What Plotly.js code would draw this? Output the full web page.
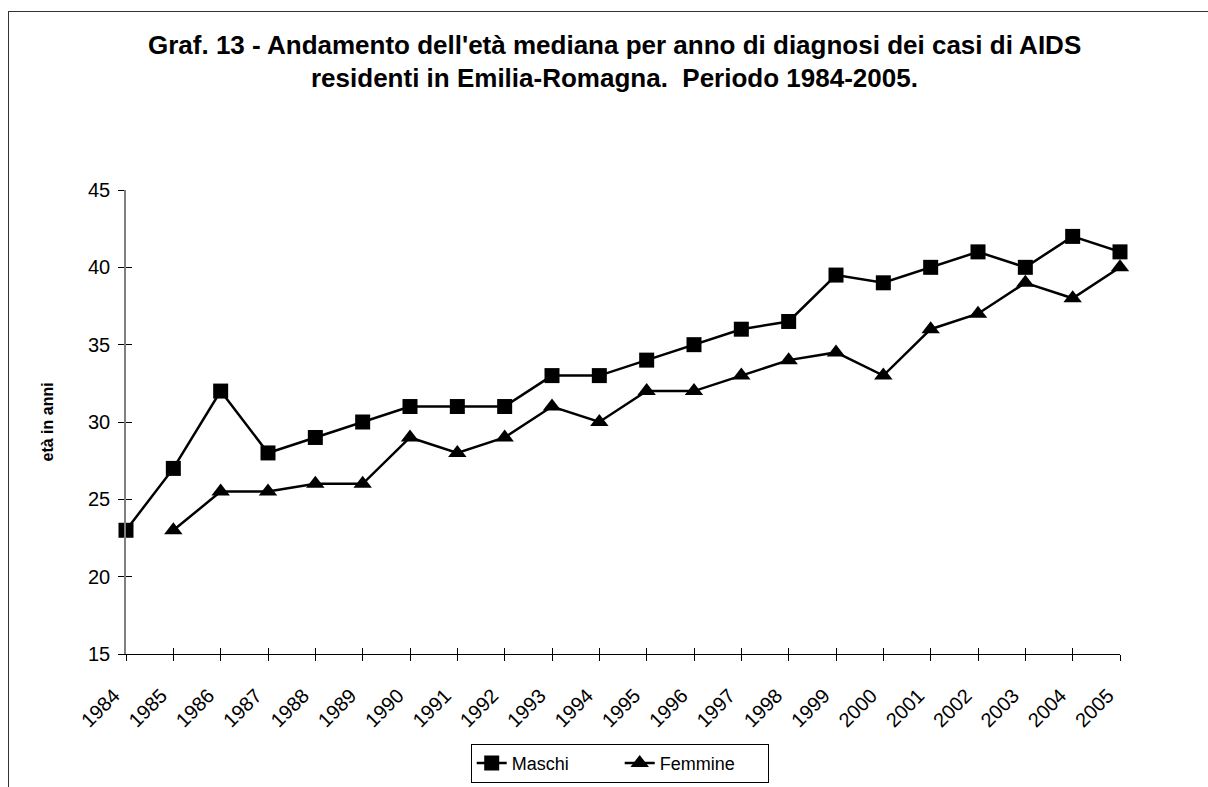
<!DOCTYPE html>
<html>
<head>
<meta charset="utf-8">
<script src="https://cdn.plot.ly/plotly-3.0.1.min.js"></script>
<style>
    body { margin: 0; overflow: hidden; background: #fff; }
    #frame {
        position: absolute; left: 8px; top: 11px;
        width: 1400px; height: 1000px;
        border: 1.5px solid #333;
    }
    #chart { position: absolute; left: 0; top: 0; width: 1208px; height: 787px; }
</style>
</head>
<body>
<div id="frame"></div>
<div id="chart"></div>
<script>
const anni = ["1984", "1985", "1986", "1987", "1988", "1989", "1990", "1991", "1992", "1993", "1994",
              "1995", "1996", "1997", "1998", "1999", "2000", "2001", "2002", "2003", "2004", "2005"]

const maschi = [23, 27, 32, 28, 29, 30, 31, 31, 31, 33, 33, 34, 35, 36, 36.5, 39.5, 39, 40, 41, 40, 42, 41]
const femmine = [null, 23, 25.5, 25.5, 26, 26, 29, 28, 29, 31, 30, 32, 32, 33, 34, 34.5, 33, 36, 37, 39, 38, 40]

const yTicks = [15, 20, 25, 30, 35, 40, 45]

const titoloRiga1 = "Graf. 13 - Andamento dell'età mediana per anno di diagnosi dei casi di AIDS"
const titoloRiga2 = "residenti in Emilia-Romagna.  Periodo 1984-2005."
const titoloY = "età in anni"

const font = "Liberation Sans, Arial, sans-serif"

let data = [
    {
        x: anni,
        y: maschi,
        name: "Maschi",
        mode: "lines+markers",
        type: "scatter",
        cliponaxis: false,
        line: {color: "#000", width: 2.5},
        marker: {symbol: "square", size: 15, color: "#000"}
    },
    {
        x: anni,
        y: femmine,
        name: "Femmine",
        mode: "lines+markers",
        type: "scatter",
        cliponaxis: false,
        line: {color: "#000", width: 2.5},
        marker: {symbol: "triangle-up", size: 16, color: "#000"}
    }
]

let layout = {
    width: 1208,
    height: 787,
    margin: {l: 126, r: 88, t: 190, b: 133},
    paper_bgcolor: "rgba(0,0,0,0)",
    plot_bgcolor: "rgba(0,0,0,0)",
    font: {family: font, size: 18, color: "#000"},
    showlegend: true,
    legend: {
        orientation: "h",
        xref: "container", yref: "container",
        x: 0.513, xanchor: "center",
        y: 0.055, yanchor: "top",
        bordercolor: "#000", borderwidth: 1,
        bgcolor: "#fff",
        font: {size: 18},
        entrywidth: 103,
        itemwidth: 30
    },
    xaxis: {
        type: "category",
        range: [0, anni.length - 1],
        automargin: false,
        showgrid: false,
        zeroline: false,
        showline: true,
        linecolor: "#000",
        linewidth: 1,
        ticks: "outside",
        ticklen: 6,
        tickcolor: "#000",
        tickangle: -45,
        ticklabelstandoff: 15,
        ticklabelshift: -12,
        tickfont: {size: 20}
    },
    xaxis2: {
        type: "category",
        overlaying: "x",
        matches: "x",
        anchor: "y",
        side: "bottom",
        showgrid: false,
        zeroline: false,
        ticks: "inside",
        ticklen: 6,
        tickcolor: "#000",
        showticklabels: false
    },
    yaxis: {
        range: [15, 45],
        tickvals: yTicks,
        automargin: false,
        showgrid: false,
        zeroline: false,
        showline: true,
        linecolor: "#808080",
        linewidth: 1.5,
        ticks: "outside",
        ticklen: 6,
        tickcolor: "#000",
        ticklabelstandoff: 4,
        tickfont: {size: 20}
    },
    yaxis2: {
        range: [15, 45],
        tickvals: yTicks,
        overlaying: "y",
        anchor: "x",
        side: "left",
        showgrid: false,
        zeroline: false,
        ticks: "inside",
        ticklen: 6,
        tickcolor: "#000",
        showticklabels: false
    },
    annotations: [
        {
            text: "<b>" + titoloRiga1 + "</b>",
            xref: "paper", yref: "paper",
            x: 0.491, y: 1.313,
            xanchor: "center", yanchor: "middle",
            showarrow: false,
            font: {size: 26}
        },
        {
            text: "<b>" + titoloRiga2 + "</b>",
            xref: "paper", yref: "paper",
            x: 0.491, y: 1.241,
            xanchor: "center", yanchor: "middle",
            showarrow: false,
            font: {size: 26}
        },
        {
            text: "<b>" + titoloY + "</b>",
            xref: "paper", yref: "paper",
            x: -0.079, y: 0.5,
            xanchor: "center", yanchor: "middle",
            textangle: -90,
            showarrow: false,
            font: {size: 16}
        }
    ]
}

// empty trace so the overlaid axes (crossing tick marks) get drawn
data.push({x: [], y: [], xaxis: "x2", yaxis: "y2", showlegend: false, hoverinfo: "skip"})

Plotly.newPlot("chart", data, layout, {displayModeBar: false})
</script>
</body>
</html>
